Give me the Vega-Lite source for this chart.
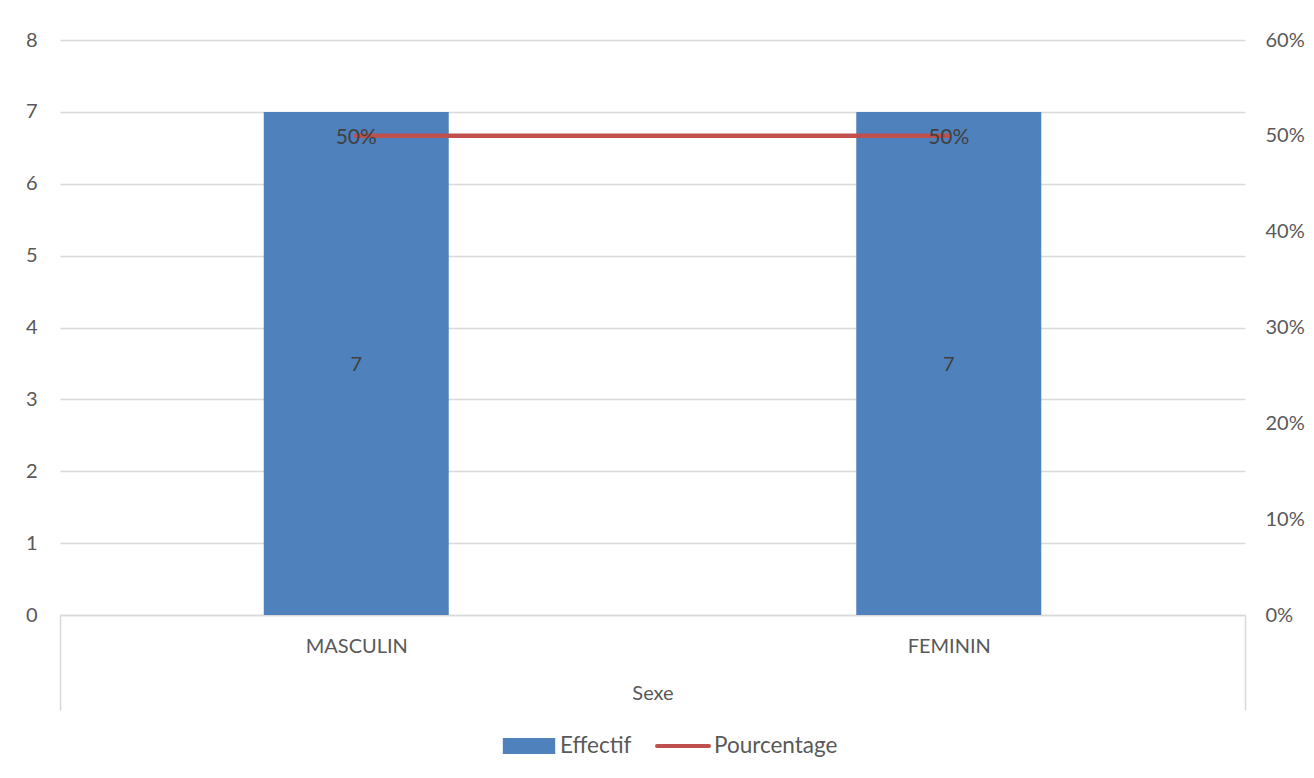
{
  "$schema": "https://vega.github.io/schema/vega-lite/v6.json",
  "width": 1185,
  "height": 575,
  "autosize": {"type": "none"},
  "padding": {"left": 60, "top": 40, "right": 69, "bottom": 163},
  "background": "white",
  "config": {
    "view": {"stroke": null},
    "font": "Lato",
    "axis": {
      "labelColor": "#595959",
      "labelFontSize": 20,
      "titleColor": "#595959",
      "titleFontSize": 20,
      "titleFontWeight": "normal",
      "labelFont": "Lato",
      "titleFont": "Lato"
    },
    "legend": {
      "labelColor": "#595959",
      "labelFontSize": 22.5,
      "labelFont": "Lato"
    }
  },
  "data": {
    "values": [
      {"sexe": "MASCULIN", "effectif": 7, "pourcentage": 0.5, "pct_label": "50%"},
      {"sexe": "FEMININ", "effectif": 7, "pourcentage": 0.5, "pct_label": "50%"}
    ]
  },
  "encoding": {
    "x": {
      "field": "sexe",
      "type": "nominal",
      "sort": ["MASCULIN", "FEMININ"],
      "scale": {"paddingInner": 0, "paddingOuter": 0},
      "axis": {
        "title": "Sexe",
        "orient": "bottom",
        "labelAngle": 0,
        "grid": false,
        "domainColor": "#d9d9d9",
        "domainWidth": 1.5,
        "tickColor": "#d9d9d9",
        "tickWidth": 1.5,
        "tickSize": 95,
        "tickBand": "extent",
        "tickOpacity": {"condition": {"test": "datum.value === 'MASCULIN'", "value": 0}, "value": 1},
        "labelPadding": -74,
        "titlePadding": -27
      }
    }
  },
  "layer": [
    {
      "encoding": {
        "y": {
          "field": "effectif",
          "type": "quantitative",
          "scale": {"domain": [0, 8]},
          "axis": {
            "title": null,
            "values": [0, 1, 2, 3, 4, 5, 6, 7, 8],
            "grid": true,
            "gridColor": "#d9d9d9",
            "gridWidth": 1.5,
            "domain": false,
            "ticks": false,
            "labelPadding": 23,
            "orient": "left"
          }
        }
      },
      "layer": [
        {
          "mark": {"type": "bar", "color": "#4F81BD", "width": {"band": 0.3122}},
          "encoding": {
            "color": {
              "datum": "Effectif",
              "type": "nominal",
              "scale": {"domain": ["Effectif", "Pourcentage"], "range": ["#4F81BD", "#C0504D"]},
              "legend": {
                "title": null,
                "orient": "none",
                "legendX": 441,
                "legendY": 678,
                "direction": "horizontal",
                "labelOffset": 3,
                "columnPadding": 17,
                "encode": {
                  "symbols": {
                    "update": {
                      "size": {"value": 2704},
                      "shape": {"signal": "datum.value === 'Effectif' ? 'M-0.93,-0.23H0.93V0.23H-0.93Z' : 'M-1,-0.23M-1.0,0H1.0M1,0.23'"},
                      "fill": {"signal": "datum.value === 'Effectif' ? '#4F81BD' : 'transparent'"},
                      "stroke": {"signal": "datum.value === 'Effectif' ? 'transparent' : '#C0504D'"},
                      "strokeWidth": {"value": 4},
                      "strokeCap": {"value": "round"},
                      "opacity": {"value": 1}
                    }
                  }
                }
              }
            }
          }
        },
        {
          "mark": {"type": "text", "color": "#404040", "fontSize": 20, "font": "Lato", "baseline": "middle", "dy": 2},
          "encoding": {
            "y": {"field": "effectif", "type": "quantitative", "stack": "zero", "bandPosition": 0.5},
            "text": {"field": "effectif", "type": "quantitative"}
          }
        }
      ]
    },
    {
      "encoding": {
        "y": {
          "field": "pourcentage",
          "type": "quantitative",
          "scale": {"domain": [0, 0.6]},
          "axis": {
            "title": null,
            "orient": "right",
            "values": [0, 0.1, 0.2, 0.3, 0.4, 0.5, 0.6],
            "format": ".0%",
            "grid": false,
            "domain": false,
            "ticks": false,
            "labelPadding": 20
          }
        }
      },
      "layer": [
        {
          "mark": {"type": "line", "strokeWidth": 4.5, "strokeCap": "round"},
          "encoding": {
            "color": {"datum": "Pourcentage", "type": "nominal"}
          }
        },
        {
          "mark": {"type": "text", "color": "#404040", "fontSize": 21, "font": "Lato", "baseline": "middle", "dy": 2},
          "encoding": {
            "text": {"field": "pct_label", "type": "nominal"}
          }
        }
      ]
    }
  ],
  "resolve": {"scale": {"y": "independent"}}
}
